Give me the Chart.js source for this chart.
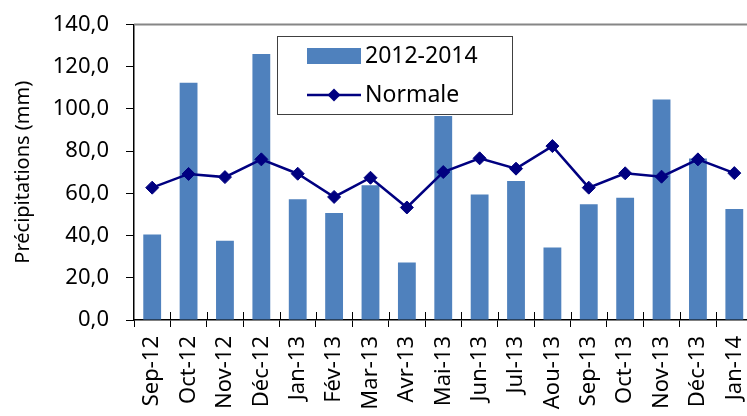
<!DOCTYPE html>
<html>
<head>
<meta charset="utf-8">
<script src="https://cdn.jsdelivr.net/npm/chart.js@4.4.1/dist/chart.umd.min.js"></script>
<style>
  html, body { margin: 0; padding: 0; background: #fff; overflow: hidden; }
  #wrap { width: 747px; height: 416px; overflow: hidden; }
  canvas { display: block; }
</style>
</head>
<body>
<div id="wrap"><canvas id="chart" width="760" height="416"></canvas></div>
<script>
const months = ['Sep-12', 'Oct-12', 'Nov-12', 'Déc-12', 'Jan-13', 'Fév-13', 'Mar-13', 'Avr-13', 'Mai-13',
    'Jun-13', 'Jul-13', 'Aou-13', 'Sep-13', 'Oct-13', 'Nov-13', 'Déc-13', 'Jan-14'];
const precip20122014 = [40.5, 112.4, 37.6, 126.0, 57.2, 50.7, 63.9, 27.3, 96.6,
    59.5, 65.8, 34.4, 54.8, 57.9, 104.5, 76.5, 52.6];
const normale = [62.7, 69.2, 67.7, 76.1, 69.3, 58.3, 67.4, 53.3, 70.1,
    76.6, 71.7, 82.4, 62.7, 69.5, 67.9, 76.1, 69.6];
const yTicks = [0, 20, 40, 60, 80, 100, 120, 140];

const BAR_COLOR = '#4F81BD';
const LINE_COLOR = '#000080';
const FONT = '"Noto Sans", sans-serif';

// legend box drawn by hand, Excel style, inside the plot
const legendBox = {
    id: 'legendBox',
    afterDraw(chart) {
        const ctx = chart.ctx;
        ctx.save();
        ctx.fillStyle = '#fff';
        ctx.fillRect(277, 36, 235, 78);
        ctx.strokeStyle = '#404040';
        ctx.lineWidth = 1;
        ctx.strokeRect(277.5, 36.5, 235, 78);

        ctx.fillStyle = BAR_COLOR;
        ctx.fillRect(307, 48, 54, 16);

        ctx.strokeStyle = LINE_COLOR;
        ctx.lineWidth = 2.5;
        ctx.beginPath();
        ctx.moveTo(307, 95);
        ctx.lineTo(361, 95);
        ctx.stroke();
        ctx.fillStyle = LINE_COLOR;
        ctx.beginPath();
        ctx.moveTo(334, 88.5);
        ctx.lineTo(340.5, 95);
        ctx.lineTo(334, 101.5);
        ctx.lineTo(327.5, 95);
        ctx.closePath();
        ctx.fill();

        ctx.fillStyle = '#000';
        ctx.font = '23px ' + FONT;
        ctx.textBaseline = 'middle';
        ctx.fillText('2012-2014', 365, 56);
        ctx.fillText('Normale', 365, 95);
        ctx.restore();
    },
};

// top border of plot area + x tick marks crossing the axis
const plotFrame = {
    id: 'plotFrame',
    beforeDatasetsDraw(chart) {
        const { ctx, chartArea } = chart;
        ctx.save();
        ctx.strokeStyle = '#868686';
        ctx.lineWidth = 2;
        ctx.beginPath();
        ctx.moveTo(chartArea.left, chartArea.top);
        ctx.lineTo(chartArea.right, chartArea.top);
        ctx.stroke();
        ctx.restore();
    },
    afterDatasetsDraw(chart) {
        const { ctx, chartArea } = chart;
        const step = (chartArea.right - chartArea.left) / months.length;
        ctx.save();
        ctx.strokeStyle = '#000';
        ctx.lineWidth = 1;
        for (let i = 1; i <= months.length; i++) {
            const x = Math.round(chartArea.left + i * step) + 0.5;
            ctx.beginPath();
            ctx.moveTo(x, chartArea.bottom - 8);
            ctx.lineTo(x, chartArea.bottom);
            ctx.stroke();
        }
        ctx.restore();
    },
};

function noPadding(scale) {
    scale.paddingLeft = 0;
    scale.paddingRight = 0;
    scale.paddingTop = 0;
    scale.paddingBottom = 0;
}

Chart.defaults.font.family = FONT;
Chart.defaults.color = '#000';

new Chart(document.getElementById('chart'), {
    data: {
        labels: months,
        datasets: [
            {
                type: 'line',
                label: 'Normale',
                data: normale,
                borderColor: LINE_COLOR,
                backgroundColor: LINE_COLOR,
                borderWidth: 2.5,
                pointStyle: 'rectRot',
                pointRadius: 6.5,
                pointBorderWidth: 1,
                tension: 0,
                order: 0,
            },
            {
                type: 'bar',
                label: '2012-2014',
                data: precip20122014,
                backgroundColor: BAR_COLOR,
                borderWidth: 0,
                barPercentage: 0.49,
                categoryPercentage: 1,
                order: 1,
            },
        ],
    },
    plugins: [plotFrame, legendBox],
    options: {
        responsive: false,
        animation: false,
        devicePixelRatio: 1,
        events: [],
        layout: { padding: { top: 24.5, right: 6, left: 0, bottom: 0 } },
        plugins: {
            legend: { display: false },
            tooltip: { enabled: false },
        },
        scales: {
            x: {
                offset: true,
                afterFit(scale) {
                    scale.height = 96;
                    noPadding(scale);
                },
                grid: {
                    display: true,
                    offset: true,
                    drawOnChartArea: false,
                    drawTicks: true,
                    tickLength: 7,
                    color: '#000',
                },
                border: { display: true, color: '#000', width: 1.5 },
                ticks: {
                    autoSkip: false,
                    minRotation: 90,
                    maxRotation: 90,
                    padding: 9,
                    font: { size: 22 },
                },
            },
            y: {
                min: 0,
                max: 140,
                afterFit(scale) {
                    scale.width = 134;
                    noPadding(scale);
                },
                afterBuildTicks(scale) { scale.ticks = yTicks.map((v) => ({ value: v })); },
                grid: {
                    display: true,
                    drawOnChartArea: false,
                    drawTicks: true,
                    tickLength: 8,
                    color: '#000',
                },
                border: { display: true, color: '#000', width: 1.5 },
                ticks: {
                    padding: 17,
                    font: { size: 22 },
                    callback: (v) => v.toFixed(1).replace('.', ','),
                },
                title: {
                    display: true,
                    text: 'Précipitations (mm)',
                    font: { size: 20 },
                    padding: { top: 11, bottom: 0 },
                },
            },
        },
    },
});
</script>
</body>
</html>
